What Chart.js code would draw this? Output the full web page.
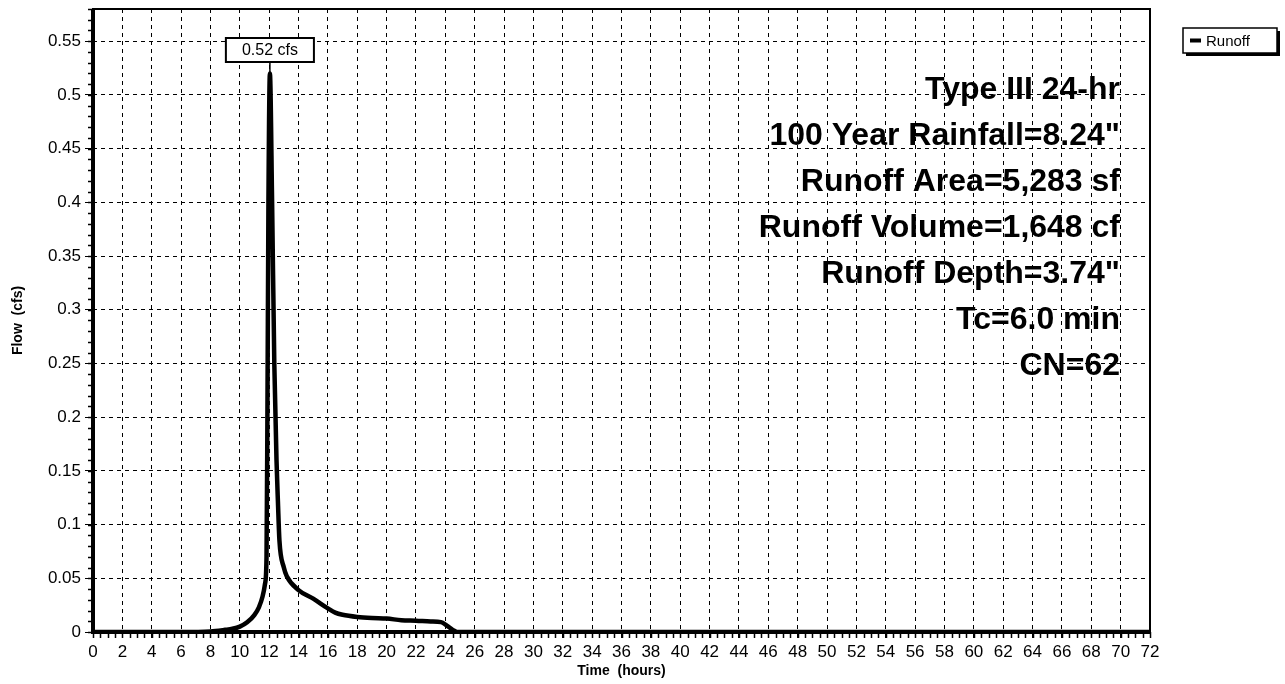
<!DOCTYPE html>
<html>
<head>
<meta charset="utf-8">
<script src="https://cdn.jsdelivr.net/npm/chart.js@4"></script>
<style>
  html, body { margin: 0; padding: 0; background: #fff; }
  #wrap { width: 1285px; height: 684px; }
</style>
</head>
<body>
<div id="wrap"><canvas id="hydro"></canvas></div>
<script>
// hydrograph (hours, cfs)
const hours = [0, 6, 8, 9, 9.5, 10, 10.5, 11, 11.3, 11.55, 11.72, 11.82, 11.88, 11.95, 12.05, 12.2, 12.35, 12.5, 12.6, 12.7, 13.0, 13.2, 14.0, 15.0, 16.0, 16.5, 17, 18, 19, 20, 21, 22, 23, 23.7, 24.1, 24.5, 24.8, 72];
const flow  = [0, 0, 0.0005, 0.002, 0.003, 0.005, 0.009, 0.016, 0.023, 0.033, 0.045, 0.07, 0.2, 0.4, 0.52, 0.40, 0.25, 0.16, 0.12, 0.085, 0.06, 0.052, 0.039, 0.031, 0.022, 0.018, 0.016, 0.014, 0.013, 0.0125, 0.011, 0.0105, 0.0098, 0.0092, 0.006, 0.002, 0, 0];

const xTicks = { min: 0, max: 72, step: 2, minor: 0.5 };
const yTicks = { min: 0, max: 0.58, step: 0.05, minor: 0.01 };

const infoLines = ['Type III 24-hr', '100 Year Rainfall=8.24"', 'Runoff Area=5,283 sf', 'Runoff Volume=1,648 cf', 'Runoff Depth=3.74"', 'Tc=6.0 min', 'CN=62'];

const FONT = 'Arial, "Liberation Sans", sans-serif';

const extras = {
  id: 'extras',
  beforeDatasetsDraw(chart) {
    const { ctx, chartArea: a, scales: { x, y } } = chart;
    ctx.save();
    // minor ticks
    ctx.strokeStyle = '#000';
    ctx.lineWidth = 1.5;
    ctx.beginPath();
    for (let v = xTicks.min; v <= xTicks.max + 1e-9; v += xTicks.minor) {
      const px = Math.round(x.getPixelForValue(v)) + 0.5;
      ctx.moveTo(px, a.bottom);
      ctx.lineTo(px, a.bottom + 6);
    }
    for (let v = yTicks.min; v <= yTicks.max + 1e-9; v += yTicks.minor) {
      const py = Math.round(y.getPixelForValue(v)) + 0.5;
      ctx.moveTo(a.left, py);
      ctx.lineTo(a.left - 5, py);
    }
    ctx.stroke();
    // frame
    ctx.lineWidth = 2;
    ctx.strokeRect(a.left, a.top, a.right - a.left, a.bottom - a.top);
    ctx.lineWidth = 4;
    ctx.beginPath();
    ctx.moveTo(a.left, a.top);
    ctx.lineTo(a.left, a.bottom);
    ctx.lineTo(a.right, a.bottom);
    ctx.stroke();

    // info text
    ctx.fillStyle = '#000';
    ctx.font = 'bold 32px ' + FONT;
    ctx.textAlign = 'right';
    ctx.textBaseline = 'middle';
    infoLines.forEach((t, i) => ctx.fillText(t, a.right - 30, a.top + 81 + i * 46));
    ctx.restore();
  },
  afterDatasetsDraw(chart) {
    const { ctx, chartArea: a, scales: { x, y } } = chart;
    ctx.save();
    // peak label
    let k = 0;
    flow.forEach((v, i) => { if (v > flow[k]) k = i; });
    const px = x.getPixelForValue(hours[k]);
    const py = y.getPixelForValue(flow[k]);
    const label = flow[k].toFixed(2) + ' cfs';
    ctx.font = '16px ' + FONT;
    const w = ctx.measureText(label).width + 32;
    const top = a.top + 29, h = 24;
    ctx.strokeStyle = '#000';
    ctx.lineWidth = 1.5;
    ctx.beginPath();
    ctx.moveTo(px, top + h);
    ctx.lineTo(px, py);
    ctx.stroke();
    ctx.fillStyle = '#fff';
    ctx.fillRect(px - w / 2, top, w, h);
    ctx.lineWidth = 2;
    ctx.strokeRect(px - w / 2, top, w, h);
    ctx.fillStyle = '#000';
    ctx.textAlign = 'center';
    ctx.textBaseline = 'middle';
    ctx.fillText(label, px, top + h / 2 + 1);

    // legend
    const lx = a.right + 33, ly = a.top + 19, lw = 94, lh = 25;
    ctx.font = '15px ' + FONT;
    ctx.fillRect(lx + 3, ly + 3, lw, lh);
    ctx.fillStyle = '#fff';
    ctx.fillRect(lx, ly, lw, lh);
    ctx.lineWidth = 1.5;
    ctx.strokeRect(lx, ly, lw, lh);
    ctx.fillStyle = '#000';
    ctx.fillRect(lx + 7, ly + lh / 2 - 2, 11, 4);
    ctx.textAlign = 'left';
    ctx.fillText(chart.data.datasets[0].label, lx + 23, ly + lh / 2 + 1);
    ctx.restore();
  }
};

const keepSteps = (step) => (scale) => {
  scale.ticks = scale.ticks.filter(t => Math.abs(t.value / step - Math.round(t.value / step)) < 1e-6);
};

new Chart(document.getElementById('hydro'), {
  type: 'line',
  data: {
    datasets: [{
      label: 'Runoff',
      data: hours.map((h, i) => ({ x: h, y: flow[i] })),
      borderColor: '#000',
      borderWidth: 4.5,
      pointRadius: 0,
      tension: 0.3,
      cubicInterpolationMode: 'monotone',
      fill: false
    }]
  },
  options: {
    responsive: true,
    maintainAspectRatio: false,
    animation: false,
    layout: { padding: { top: 9, right: 135, left: 0, bottom: 0 } },
    plugins: { legend: { display: false }, tooltip: { enabled: false } },
    scales: {
      x: {
        type: 'linear',
        min: xTicks.min, max: xTicks.max,
        afterBuildTicks: keepSteps(xTicks.step),
        afterFit: (s) => { s.height = 52; s.paddingLeft = 0; s.paddingRight = 0; },
        ticks: { stepSize: xTicks.step, color: '#000', font: { family: FONT, size: 17 }, padding: 4, maxRotation: 0, autoSkip: false },
        grid: { color: '#000', lineWidth: 1, tickLength: 6, tickColor: '#000' },
        border: { display: false, dash: [4, 4] },
        title: { display: true, text: 'Time  (hours)', color: '#000', font: { family: FONT, size: 14, weight: 'bold' }, padding: { top: 0, bottom: 4 } }
      },
      y: {
        min: yTicks.min, max: yTicks.max,
        afterBuildTicks: keepSteps(yTicks.step),
        afterFit: (s) => { s.width = 93; s.paddingTop = 0; s.paddingBottom = 0; },
        ticks: {
          stepSize: yTicks.step, color: '#000', font: { family: FONT, size: 17 }, padding: 4,
          callback: (v) => String(+v.toFixed(2))
        },
        grid: { color: '#000', lineWidth: 1, tickLength: 8, tickColor: '#000' },
        border: { display: false, dash: [4, 4] },
        title: { display: true, text: 'Flow  (cfs)', color: '#000', font: { family: FONT, size: 14, weight: 'bold' }, padding: { top: 10, bottom: 4 } }
      }
    }
  },
  plugins: [extras]
});
</script>
</body>
</html>
